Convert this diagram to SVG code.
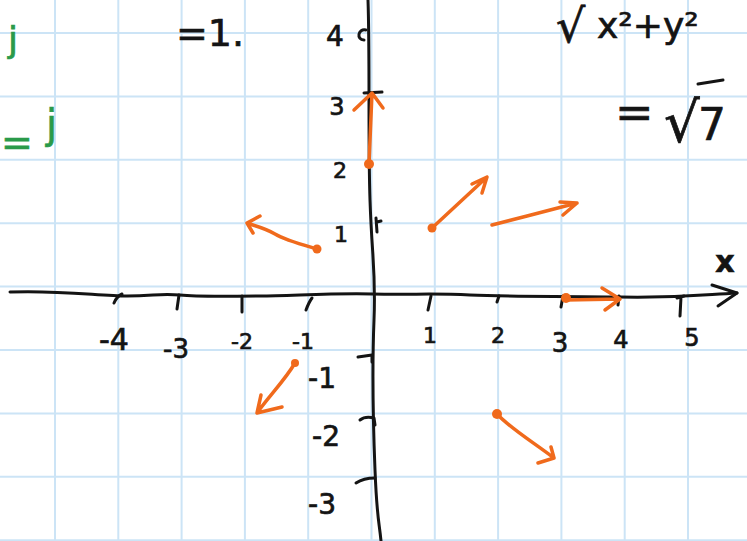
<svg xmlns="http://www.w3.org/2000/svg" width="747" height="541" viewBox="0 0 747 541">
<style>
.grid line{stroke:#cce4f6;stroke-width:2}
.ink{fill:none;stroke:#141414;stroke-width:3;stroke-linecap:round;stroke-linejoin:round}
.vec{fill:none;stroke:#f06a1c;stroke-width:3.5;stroke-linecap:round;stroke-linejoin:round}
.dot{fill:#f06a1c}
.lbl{font-family:"DejaVu Sans","Liberation Sans",sans-serif;fill:#141414;stroke:#141414;stroke-width:0.7;text-anchor:middle}
.note{font-family:"DejaVu Sans","Liberation Sans",sans-serif;fill:#141414;stroke:#141414;stroke-width:0.7}
.green{font-family:"DejaVu Sans","Liberation Sans",sans-serif;fill:#2a9a4a;stroke:#2a9a4a;stroke-width:0.7}
</style>
<rect width="747" height="541" fill="#ffffff"/>
<g id="grid" class="grid">
<line x1="55" y1="0" x2="55" y2="541"/><line x1="118.3" y1="0" x2="118.3" y2="541"/>
<line x1="181.6" y1="0" x2="181.6" y2="541"/><line x1="244.9" y1="0" x2="244.9" y2="541"/>
<line x1="308.2" y1="0" x2="308.2" y2="541"/><line x1="371.5" y1="0" x2="371.5" y2="541"/>
<line x1="434.8" y1="0" x2="434.8" y2="541"/><line x1="498.1" y1="0" x2="498.1" y2="541"/>
<line x1="561.4" y1="0" x2="561.4" y2="541"/><line x1="624.7" y1="0" x2="624.7" y2="541"/>
<line x1="688" y1="0" x2="688" y2="541"/>
<line x1="0" y1="33" x2="747" y2="33"/><line x1="0" y1="96.4" x2="747" y2="96.4"/>
<line x1="0" y1="159.8" x2="747" y2="159.8"/><line x1="0" y1="223.2" x2="747" y2="223.2"/>
<line x1="0" y1="286.6" x2="747" y2="286.6"/><line x1="0" y1="350" x2="747" y2="350"/>
<line x1="0" y1="413.4" x2="747" y2="413.4"/><line x1="0" y1="476.8" x2="747" y2="476.8"/>
<line x1="0" y1="540.2" x2="747" y2="540.2"/>
</g>
<g id="axes" class="ink">
<path d="M10,292 C60,290 100,296 127,296 S160,293 180,295 S230,296 260,296 S330,293 372,294 S430,293 470,295 S560,296 620,297 S700,295 737,293"/>
<path d="M712,285 L737,293 L718,306"/>
<path d="M368,0 C370,60 368,140 370,200 S376,270 374,320 S373,420 375,470 S379,520 381,541"/>
</g>
<g id="ticks" class="ink">
<path d="M114,303 Q117,296 122,294"/>
<path d="M177,309 L179,295"/>
<path d="M242,296 L242,312"/>
<path d="M306,310 Q309,302 312,298"/>
<path d="M428,310 L431,296"/>
<path d="M497,302 L499,296"/>
<path d="M561,307 L563,296"/>
<path d="M618,305 L619,296"/>
<path d="M680,316 L681,297 M677,298 L684,296"/>
<path d="M366,30 C358,28 356,40 364,40"/>
<path d="M364,93 L382,92"/>
<path d="M376,218 L377,232 M377,222 L381,221"/>
<path d="M358,357 L372,355 L372,362"/>
<path d="M360,420 C365,416 370,417 374,418 L375,425"/>
<path d="M356,483 C362,479 368,478 375,478"/>
</g>
<g id="labels">
<text class="lbl" x="114" y="350" font-size="30">-4</text>
<text class="lbl" x="176" y="358" font-size="26">-3</text>
<text class="lbl" x="242" y="349" font-size="22">-2</text>
<text class="lbl" x="303" y="349" font-size="22">-1</text>
<text class="lbl" x="430" y="343" font-size="22">1</text>
<text class="lbl" x="498" y="343" font-size="22">2</text>
<text class="lbl" x="560" y="352" font-size="26">3</text>
<text class="lbl" x="621" y="348" font-size="24">4</text>
<text class="lbl" x="692" y="346" font-size="24">5</text>
<text class="lbl" x="725" y="272" font-size="30" font-weight="bold">x</text>
<text class="lbl" x="335" y="46" font-size="28">4</text>
<text class="lbl" x="337" y="115" font-size="24">3</text>
<text class="lbl" x="340" y="178" font-size="22">2</text>
<text class="lbl" x="341" y="242" font-size="22">1</text>
<text class="lbl" x="322" y="388" font-size="28">-1</text>
<text class="lbl" x="326" y="446" font-size="28">-2</text>
<text class="lbl" x="322" y="514" font-size="28">-3</text>
</g>
<g id="notes">
<text class="note" x="176" y="46" font-size="38">=1.</text>
<text class="note" x="556" y="42" font-size="46">√</text>
<text class="note" x="597" y="38" font-size="36">x²+y²</text>
<text class="note" x="615" y="128" font-size="46">=</text>
<text class="note" x="664" y="142" font-size="56">√</text>
<line x1="698" y1="84" x2="723" y2="80" stroke="#141414" stroke-width="3" stroke-linecap="round"/>
<text class="note" x="698" y="140" font-size="44">7</text>
<text class="green" x="8" y="52" font-size="36">j</text>
<text class="green" x="1" y="155" font-size="38">=</text>
<text class="green" x="46" y="138" font-size="40">j</text>
</g>
<g id="vectors">
<circle class="dot" cx="369" cy="164" r="5"/>
<path class="vec" d="M369,164 L372,93 M354,110 L372,93 L383,108"/>
<circle class="dot" cx="432" cy="228" r="4.5"/>
<path class="vec" d="M432,228 L487,177 M472,184 L487,177 L482,193"/>
<path class="vec" d="M492,225 C520,218 550,210 577,203 M560,202 L577,203 L563,215"/>
<circle class="dot" cx="317" cy="249" r="4.5"/>
<path class="vec" d="M317,249 C300,244 285,240 275,234 S255,226 247,223 M260,216 L247,223 L253,233"/>
<circle class="dot" cx="566" cy="298" r="5"/>
<path class="vec" d="M566,300 L620,299 M602,288 L620,299 L605,310"/>
<circle class="dot" cx="295" cy="363" r="4"/>
<path class="vec" d="M295,363 C285,380 270,395 257,413 M261,395 L257,413 L282,407"/>
<circle class="dot" cx="497" cy="414" r="5"/>
<path class="vec" d="M497,414 C510,428 530,440 554,458 M551,447 L554,458 L538,463"/>
</g>
</svg>
